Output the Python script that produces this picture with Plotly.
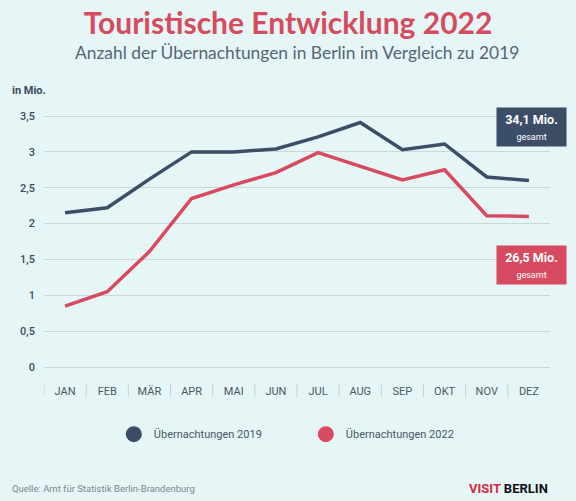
import plotly.graph_objects as go

months = ["JAN", "FEB", "MÄR", "APR", "MAI", "JUN", "JUL", "AUG", "SEP", "OKT", "NOV", "DEZ"]
values_2019 = [2.15, 2.22, 2.62, 3.00, 3.00, 3.04, 3.21, 3.41, 3.03, 3.11, 2.65, 2.60]
values_2022 = [0.85, 1.05, 1.61, 2.35, 2.54, 2.71, 2.99, 2.80, 2.61, 2.75, 2.11, 2.10]
y_ticks = [0, 0.5, 1, 1.5, 2, 2.5, 3, 3.5]
y_tick_labels = ["0", "0,5", "1", "1,5", "2", "2,5", "3", "3,5"]
total_2019 = "34,1 Mio."
total_2022 = "26,5 Mio."
name_2019 = "Übernachtungen 2019"
name_2022 = "Übernachtungen 2022"

C19 = "#3b4d67"
C22 = "#d84a5f"
BG = "#e6f6f6"
GRID = "#c9d8da"
TXT = "#3c4a5c"

fig = go.Figure()
fig.add_trace(go.Scatter(x=months, y=values_2019, mode="lines", line=dict(color=C19, width=3.5),
                         showlegend=False, hoverinfo="skip"))
fig.add_trace(go.Scatter(x=months, y=values_2022, mode="lines", line=dict(color=C22, width=3.5),
                         showlegend=False, hoverinfo="skip"))
# legend entries (circle only)
fig.add_trace(go.Scatter(x=[None], y=[None], mode="markers", name=name_2019,
                         marker=dict(color=C19, size=16)))
fig.add_trace(go.Scatter(x=[None], y=[None], mode="markers", name=name_2022,
                         marker=dict(color=C22, size=16)))

# category separators
for i in range(len(months)):
    fig.add_shape(type="line", xref="x", yref="paper", x0=i - 0.5, x1=i - 0.5,
                  y0=-0.03, y1=-0.08, line=dict(color="#c5d3d6", width=1))

fig.update_layout(
    width=576, height=501,
    paper_bgcolor=BG, plot_bgcolor=BG,
    margin=dict(l=44, r=26, t=100, b=126),
    font=dict(family="Roboto", color=TXT),
    title=dict(
        text="<b>Touristische Entwicklung 2022</b>",
        font=dict(family="Lato", size=30, color="#d64c5f"),
        x=0.5, xanchor="center", y=0.953, yanchor="middle",
    ),
    xaxis=dict(range=[-0.5, 11.5], showgrid=False, zeroline=False, showline=False,
               ticks="", ticklabelstandoff=8, tickfont=dict(size=11, color="#4a5666", family="Roboto"),
               fixedrange=True),
    yaxis=dict(range=[-0.1116, 3.7235], tickvals=y_ticks, ticktext=y_tick_labels,
               showgrid=True, gridcolor=GRID, gridwidth=1, zeroline=False, showline=False,
               ticks="", ticklabelstandoff=8,
               tickfont=dict(size=11, color=TXT, family="Roboto Medium, Roboto"),
               fixedrange=True),
    legend=dict(orientation="h", x=0.138, xanchor="left", y=-0.215, yanchor="middle",
                font=dict(size=11, color="#4a5666"), itemwidth=30, entrywidth=147,
                bgcolor="rgba(0,0,0,0)", traceorder="normal"),
    annotations=[
        dict(text="Anzahl der Übernachtungen in Berlin im Vergleich zu 2019", xref="paper", yref="paper",
             x=0.5, xanchor="center", y=1.1745, yanchor="middle", showarrow=False,
             font=dict(family="Lato", size=17.4, color="#556577")),
        dict(text="<b>in Mio.</b>", xref="paper", yref="paper", xanchor="left", yanchor="middle",
             x=-0.068, y=1.035, showarrow=False, font=dict(size=11, color=TXT)),
        dict(text=f"<b>{total_2019}</b><br><span style='font-size:9px'>gesamt</span>",
             xref="paper", yref="paper", x=0.964, y=0.901, xanchor="center", yanchor="middle",
             showarrow=False, bgcolor=C19, width=69, height=38, borderpad=0,
             font=dict(size=12.5, color="white"), align="center"),
        dict(text=f"<b>{total_2022}</b><br><span style='font-size:9px'>gesamt</span>",
             xref="paper", yref="paper", x=0.964, y=0.4, xanchor="center", yanchor="middle",
             showarrow=False, bgcolor=C22, width=69, height=38, borderpad=0,
             font=dict(size=12.5, color="white"), align="center"),
        dict(text="Quelle: Amt für Statistik Berlin-Brandenburg", xref="paper", yref="paper",
             x=-0.068, xanchor="left", y=-0.411, yanchor="middle", showarrow=False,
             font=dict(size=9.5, color="#7a8590")),
        dict(text="<b><span style='color:#d62a44'>VISIT</span> BERLIN</b>", xref="paper", yref="paper",
             x=1.0, xanchor="right", y=-0.411, yanchor="middle", showarrow=False,
             font=dict(size=13, color="#111111")),
    ],
)

fig.write_html("out.html", config={"displayModeBar": False},
               post_script="document.body.style.margin='0';document.body.style.overflow='hidden';")
